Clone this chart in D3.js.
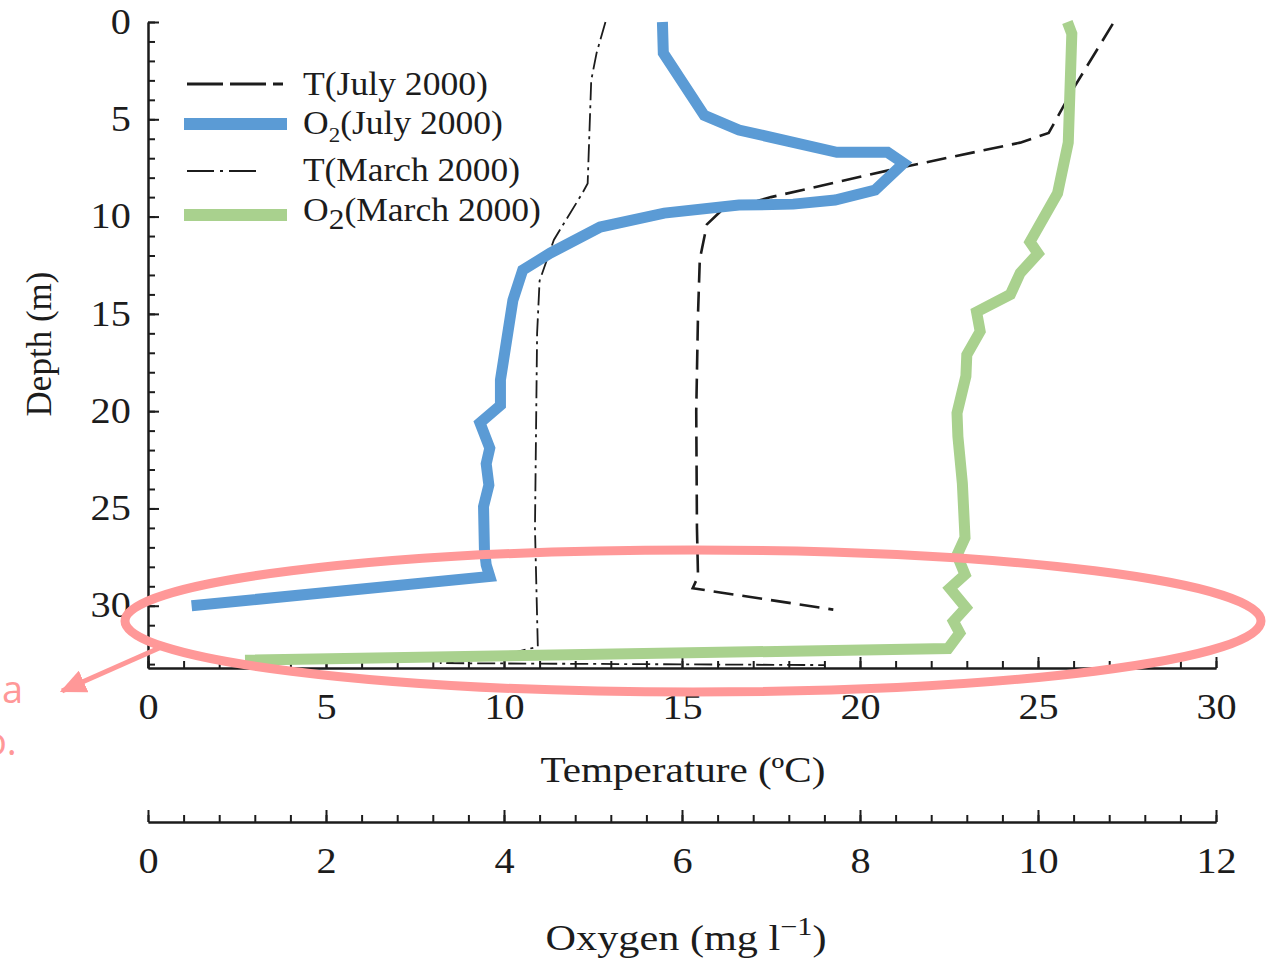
<!DOCTYPE html>
<html>
<head>
<meta charset="utf-8">
<script src="https://cdn.jsdelivr.net/npm/d3@7"></script>
<style>
  html, body { margin: 0; padding: 0; background: #fff; overflow: hidden; }
  #chart { width: 1276px; height: 959px; }
</style>
</head>
<body>
<div id="chart"></div>
<script>
// 刻度
const depthTicks = [0, 5, 10, 15, 20, 25, 30];
const tempTicks = [0, 5, 10, 15, 20, 25, 30];
const oxygenTicks = [0, 2, 4, 6, 8, 10, 12];

// [温度 °C, 深度 m]
const tempJuly = [
  [27.1, 0.1], [26.0, 3.4], [25.3, 5.7], [24.5, 6.2], [21.1, 7.5], [17.5, 9.0],
  [16.1, 9.7], [15.7, 10.4], [15.5, 12.2], [15.45, 15], [15.4, 20], [15.42, 26],
  [15.45, 28.5], [15.3, 29.1], [19.25, 30.2]
];
const tempMarch = [
  [12.85, 0], [12.6, 1.6], [12.45, 3.0], [12.35, 8.3], [12.2, 8.8], [11.4, 11.2],
  [11.0, 13.3], [10.93, 16], [10.87, 26], [10.93, 30.6], [10.95, 32.1], [10.2, 32.45],
  [8.2, 32.95], [19.0, 33.05]
];

// [溶解氧 mg/l, 深度 m]
const oxyJuly = [
  [5.78, 0], [5.79, 1.6], [6.25, 4.8], [6.64, 5.55], [7.74, 6.7], [8.31, 6.7],
  [8.49, 7.26], [8.17, 8.64], [7.72, 9.15], [7.25, 9.36], [6.64, 9.41], [5.80, 9.82],
  [5.08, 10.54], [4.52, 11.88], [4.21, 12.75], [4.10, 14.3], [3.96, 18.4], [3.96, 19.7],
  [3.73, 20.6], [3.84, 21.9], [3.80, 22.7], [3.83, 23.8], [3.77, 24.9], [3.78, 27.1],
  [3.80, 27.9], [3.84, 28.5], [0.49, 30.0]
];
const oxyMarch = [
  [10.33, 0], [10.38, 0.6], [10.34, 6.2], [10.22, 8.8], [9.91, 11.3], [10.0, 11.9],
  [9.80, 12.9], [9.69, 14.0], [9.31, 14.9], [9.35, 15.9], [9.20, 17.1], [9.19, 18.2],
  [9.09, 20.1], [9.10, 21.3], [9.15, 23.7], [9.18, 26.5], [9.09, 27.4], [9.18, 28.4],
  [9.01, 29.1], [9.19, 30.1], [9.05, 30.8], [9.12, 31.4], [8.99, 32.2], [1.09, 32.8]
];

const legendLabels = [
  { main: 'T(July 2000)', sub: null, width: 185 },
  { main: 'O', sub: '2', rest: '(July 2000)', subSize: 22, width: 200 },
  { main: 'T(March 2000)', sub: null, width: 217 },
  { main: 'O', sub: '2', rest: '(March 2000)', subSize: 30, width: 238 }
];

const SERIF = '"Liberation Serif", "Times New Roman", serif';
const INK = '#1c1c1c';
const BLUE = '#5b9bd5';
const GREEN = '#a9d18e';
const PINK = '#ff9898';

const svg = d3.select('#chart')
  .append('svg')
  .attr('width', 1276)
  .attr('height', 959);

// 比例尺
const y = d3.scaleLinear().domain([0, 33.2]).range([22, 668]);
const xT = d3.scaleLinear().domain([0, 30]).range([148, 1216]);
const xO = d3.scaleLinear().domain([0, 12]).range([148, 1216]);

// 把文字横向拉伸到目标宽度
function fitWidth(sel, target) {
  const w = sel.node().getBBox().width;
  sel.attr('transform', `${sel.attr('transform') || ''} scale(${target / w},1)`);
}

function styleAxis(g, fontSize, stretch) {
  g.selectAll('.domain, .tick line')
    .attr('stroke', INK)
    .attr('stroke-width', 2);
  g.selectAll('.tick text')
    .attr('font-family', SERIF)
    .attr('font-size', fontSize)
    .attr('fill', INK)
    .attr('transform', `scale(${stretch},1)`);
}

// 纵轴（深度）
svg.append('g')
  .attr('transform', `translate(${xT(0)},0)`)
  .call(d3.axisLeft(y).tickValues(d3.range(0, 34)).tickSize(-7).tickSizeOuter(0).tickFormat(''))
  .call(g => styleAxis(g, 35, 1.15));
svg.append('g')
  .attr('transform', `translate(${xT(0)},0)`)
  .call(d3.axisLeft(y).tickValues(depthTicks).tickSize(-11).tickSizeOuter(0).tickPadding(15))
  .call(g => styleAxis(g, 35, 1.15));

// 温度轴
const tempAxisY = y(33.2);
svg.append('g')
  .attr('transform', `translate(0,${tempAxisY})`)
  .call(d3.axisBottom(xT).tickValues(d3.range(0, 31)).tickSize(-7).tickSizeOuter(0).tickFormat(''))
  .call(g => styleAxis(g, 35, 1.15));
svg.append('g')
  .attr('transform', `translate(0,${tempAxisY})`)
  .call(d3.axisBottom(xT).tickValues(tempTicks).tickSize(-11).tickSizeOuter(0).tickPadding(26))
  .call(g => styleAxis(g, 35, 1.15));

// 溶解氧轴
const oxyAxisY = 822;
svg.append('g')
  .attr('transform', `translate(0,${oxyAxisY})`)
  .call(d3.axisBottom(xO).tickValues(d3.range(0, 31).map(i => i * 0.4)).tickSize(-7).tickSizeOuter(0).tickFormat(''))
  .call(g => styleAxis(g, 35, 1.15));
svg.append('g')
  .attr('transform', `translate(0,${oxyAxisY})`)
  .call(d3.axisBottom(xO).tickValues(oxygenTicks).tickSize(-12).tickSizeOuter(0).tickPadding(26))
  .call(g => styleAxis(g, 35, 1.15));

// 轴标题
const tTitle = svg.append('text')
  .attr('transform', 'translate(683,782)')
  .attr('text-anchor', 'middle')
  .attr('font-family', SERIF)
  .attr('font-size', 35)
  .attr('fill', INK)
  .text('Temperature (ºC)');
fitWidth(tTitle, 285);

const oTitle = svg.append('text')
  .attr('transform', 'translate(686,950)')
  .attr('text-anchor', 'middle')
  .attr('font-family', SERIF)
  .attr('font-size', 35)
  .attr('fill', INK);
oTitle.append('tspan').text('Oxygen (mg l');
oTitle.append('tspan').attr('font-size', 25).attr('dy', -15).text('−1');
oTitle.append('tspan').attr('dy', 15).text(')');
fitWidth(oTitle, 281);

svg.append('text')
  .attr('transform', 'translate(51,344) rotate(-90)')
  .attr('text-anchor', 'middle')
  .attr('font-family', SERIF)
  .attr('font-size', 35)
  .attr('fill', INK)
  .text('Depth (m)');

// 曲线
const lineT = d3.line().x(d => xT(d[0])).y(d => y(d[1]));
const lineO = d3.line().x(d => xO(d[0])).y(d => y(d[1]));

const series = [
  { data: tempMarch, gen: lineT, stroke: INK, width: 1.8, dash: '18,5,3,5' },
  { data: tempJuly, gen: lineT, stroke: INK, width: 2.6, dash: '20,9' },
  { data: oxyJuly, gen: lineO, stroke: BLUE, width: 11, dash: null },
  { data: oxyMarch, gen: lineO, stroke: GREEN, width: 11, dash: null }
];

svg.append('g').attr('class', 'series-layer')
  .selectAll('path')
  .data(series)
  .join('path')
  .attr('d', s => s.gen(s.data))
  .attr('fill', 'none')
  .attr('stroke', s => s.stroke)
  .attr('stroke-width', s => s.width)
  .attr('stroke-dasharray', s => s.dash)
  .attr('stroke-linejoin', 'miter')
  .attr('stroke-miterlimit', 10);

// 图例
const legendStyles = [
  { stroke: INK, width: 2.8, dash: '36,7', x1: 187, x2: 283 },
  { stroke: BLUE, width: 12, dash: null, x1: 184, x2: 287 },
  { stroke: INK, width: 2, dash: '27,6,3,6', x1: 187, x2: 262 },
  { stroke: GREEN, width: 12, dash: null, x1: 184, x2: 287 }
];
const legendLineY = [84, 124, 171, 215];
const legendTextY = [95, 134, 181, 221];

const legend = svg.append('g').attr('class', 'legend');
legendLabels.forEach((item, i) => {
  const st = legendStyles[i];
  legend.append('line')
    .attr('x1', st.x1)
    .attr('x2', st.x2)
    .attr('y1', legendLineY[i])
    .attr('y2', legendLineY[i])
    .attr('stroke', st.stroke)
    .attr('stroke-width', st.width)
    .attr('stroke-dasharray', st.dash);

  const t = legend.append('text')
    .attr('transform', `translate(303,${legendTextY[i]})`)
    .attr('font-family', SERIF)
    .attr('font-size', 34)
    .attr('fill', INK);
  t.append('tspan').text(item.main);
  if (item.sub) {
    t.append('tspan').attr('font-size', item.subSize).attr('dy', 8).text(item.sub);
    t.append('tspan').attr('dy', -8).text(item.rest);
  }
  fitWidth(t, item.width);
});

// 红色标注
const defs = svg.append('defs');
defs.append('marker')
  .attr('id', 'arrow')
  .attr('viewBox', '0 -10 22 20')
  .attr('refX', 20)
  .attr('refY', 0)
  .attr('markerUnits', 'userSpaceOnUse')
  .attr('markerWidth', 26)
  .attr('markerHeight', 24)
  .attr('orient', 'auto')
  .append('path')
  .attr('d', 'M0,-10L22,0L0,10Z')
  .attr('fill', PINK);

const annot = svg.append('g').attr('class', 'annotation');
annot.append('ellipse')
  .attr('cx', 693)
  .attr('cy', 621)
  .attr('rx', 568)
  .attr('ry', 71)
  .attr('fill', 'none')
  .attr('stroke', PINK)
  .attr('stroke-width', 9);
annot.append('line')
  .attr('x1', 166)
  .attr('y1', 645)
  .attr('x2', 62)
  .attr('y2', 691)
  .attr('stroke', PINK)
  .attr('stroke-width', 5)
  .attr('marker-end', 'url(#arrow)');

// 原图左侧被裁掉的说明文字
annot.append('text')
  .attr('x', 2)
  .attr('y', 703)
  .attr('font-family', '"Open Sans", "Noto Sans", sans-serif')
  .attr('font-size', 38)
  .attr('fill', PINK)
  .text('a');
annot.append('text')
  .attr('x', -16)
  .attr('y', 755)
  .attr('font-family', '"Open Sans", "Noto Sans", sans-serif')
  .attr('font-size', 38)
  .attr('fill', PINK)
  .text('o.');
</script>
</body>
</html>
